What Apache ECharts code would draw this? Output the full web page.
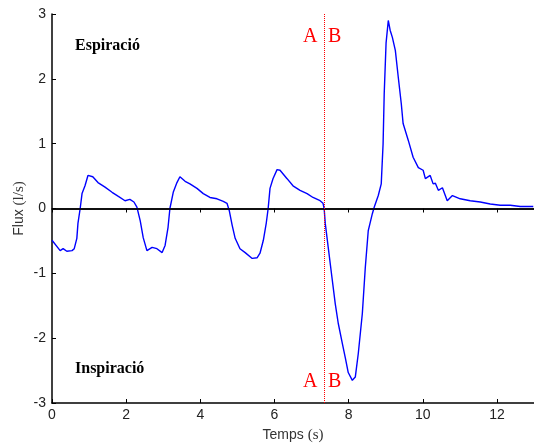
<!DOCTYPE html>
<html><head><meta charset="utf-8">
<script src="https://cdn.jsdelivr.net/npm/echarts@6/dist/echarts.min.js"></script>
<style>html,body{margin:0;padding:0;background:#fff;overflow:hidden}#c{width:534px;height:443px}</style>
</head><body><div id="c"></div>
<script>
// Time (s) and flow (l/s)
const timeS = [0.00,0.22,0.30,0.40,0.54,0.60,0.67,0.70,0.76,0.81,0.89,0.97,1.10,1.24,1.43,1.62,1.78,1.97,2.10,2.21,2.29,2.38,2.46,2.56,2.70,2.83,2.97,3.05,3.13,3.18,3.27,3.37,3.45,3.59,3.72,3.91,4.08,4.26,4.45,4.62,4.72,4.78,4.86,4.94,5.07,5.21,5.40,5.53,5.61,5.70,5.78,5.83,5.88,5.96,6.07,6.15,6.34,6.50,6.69,6.88,7.04,7.23,7.31,7.34,7.37,7.45,7.55,7.64,7.72,7.83,7.91,7.99,8.10,8.18,8.26,8.37,8.45,8.53,8.64,8.69,8.80,8.88,8.93,8.96,9.01,9.07,9.12,9.18,9.26,9.34,9.42,9.47,9.61,9.74,9.88,10.01,10.07,10.12,10.20,10.28,10.34,10.42,10.53,10.66,10.80,11.01,11.28,11.55,11.82,12.09,12.36,12.63,12.98];
const flowLs = [-0.49,-0.65,-0.62,-0.66,-0.65,-0.62,-0.46,-0.23,0.00,0.23,0.35,0.51,0.49,0.40,0.33,0.25,0.19,0.12,0.14,0.10,0.02,-0.19,-0.45,-0.65,-0.60,-0.62,-0.68,-0.57,-0.29,0.00,0.25,0.40,0.49,0.42,0.38,0.31,0.23,0.17,0.15,0.11,0.08,-0.03,-0.26,-0.46,-0.62,-0.68,-0.77,-0.76,-0.69,-0.49,-0.22,0.00,0.31,0.46,0.60,0.59,0.46,0.35,0.28,0.23,0.17,0.12,0.08,0.00,-0.23,-0.60,-1.06,-1.47,-1.77,-2.08,-2.30,-2.53,-2.65,-2.60,-2.24,-1.62,-0.91,-0.34,-0.08,0.02,0.20,0.38,1.00,1.77,2.55,2.90,2.75,2.64,2.44,2.02,1.62,1.31,1.05,0.79,0.63,0.59,0.46,0.46,0.51,0.38,0.39,0.28,0.32,0.12,0.20,0.15,0.12,0.10,0.07,0.05,0.05,0.03,0.03];
const xTicks = [0,2,4,6,8,10,12];
const yTicks = [-3,-2,-1,0,1,2,3];
const markerTime = 7.33;
const phaseLabels = ['Espiració','Inspiració'];

const chart = echarts.init(document.getElementById('c'));
const tickStyle = {show:true, inside:true, length:4, lineStyle:{color:'#000'}};
chart.setOption({
  animation:false,
  grid:{left:52, right:0, top:14, bottom:40, outerBoundsMode:'none', containLabel:false, show:false},
  xAxis:[{
    type:'value', min:0, max:13, interval:2,
    axisLine:{show:true, onZero:false, lineStyle:{color:'#000', width:1.5}},
    axisTick:tickStyle, splitLine:{show:false},
    axisLabel:{color:'#222', fontFamily:'Liberation Sans', fontSize:14, margin:5,
      formatter:v=> xTicks.includes(v)? String(v):''},
    name:'{a|Temps }{b|(s)}', nameLocation:'middle', nameGap:25,
    nameTextStyle:{rich:{a:{fontFamily:'Liberation Sans', fontSize:14, color:'#333'}, b:{fontFamily:'Liberation Serif', fontSize:15, color:'#333'}}}
  },{
    type:'value', position:'top', min:0, max:13, interval:2,
    axisLine:{show:true, lineStyle:{color:'#000', width:1.5}},
    axisTick:tickStyle, axisLabel:{show:false}, splitLine:{show:false}
  }],
  yAxis:[{
    type:'value', min:-3, max:3, interval:1,
    axisLine:{show:true, onZero:false, lineStyle:{color:'#000', width:1.5}},
    axisTick:tickStyle, splitLine:{show:false},
    axisLabel:{color:'#222', fontFamily:'Liberation Sans', fontSize:14, margin:6,
      formatter:v=> yTicks.includes(v)? String(v):''},
    name:'{a|Flux }{b|(l/s)}', nameLocation:'middle', nameGap:25, nameRotate:90, nameMoveOverlap:false,
    nameTextStyle:{rich:{a:{fontFamily:'Liberation Sans', fontSize:14, color:'#333'}, b:{fontFamily:'Liberation Serif', fontSize:15, color:'#333'}}}
  }],
  series:[{
    type:'line', xAxisIndex:0, yAxisIndex:0, showSymbol:false,
    data: timeS.map((t,i)=>[t, flowLs[i]]),
    lineStyle:{color:'#0000ff', width:1.4},
    markLine:{silent:true, symbol:'none', label:{show:false},
      data:[
        {yAxis:0, lineStyle:{color:'#000', width:1.5, type:'solid'}},
        {xAxis:markerTime, lineStyle:{color:'#ff0000', width:1, type:'dotted'}}
      ]}
  }],
  graphic:[
    {type:'text', left:75, top:38, style:{text:phaseLabels[0], font:'bold 16px "Liberation Serif"', fill:'#000'}},
    {type:'text', left:75, top:361, style:{text:phaseLabels[1], font:'bold 16px "Liberation Serif"', fill:'#000'}},
    {type:'text', left:303, top:27, style:{text:'A', font:'20px "Liberation Serif"', fill:'#ff0000'}},
    {type:'text', left:328, top:27, style:{text:'B', font:'20px "Liberation Serif"', fill:'#ff0000'}},
    {type:'text', left:303, top:372, style:{text:'A', font:'20px "Liberation Serif"', fill:'#ff0000'}},
    {type:'text', left:328, top:372, style:{text:'B', font:'20px "Liberation Serif"', fill:'#ff0000'}}
  ]
});
</script></body></html>
